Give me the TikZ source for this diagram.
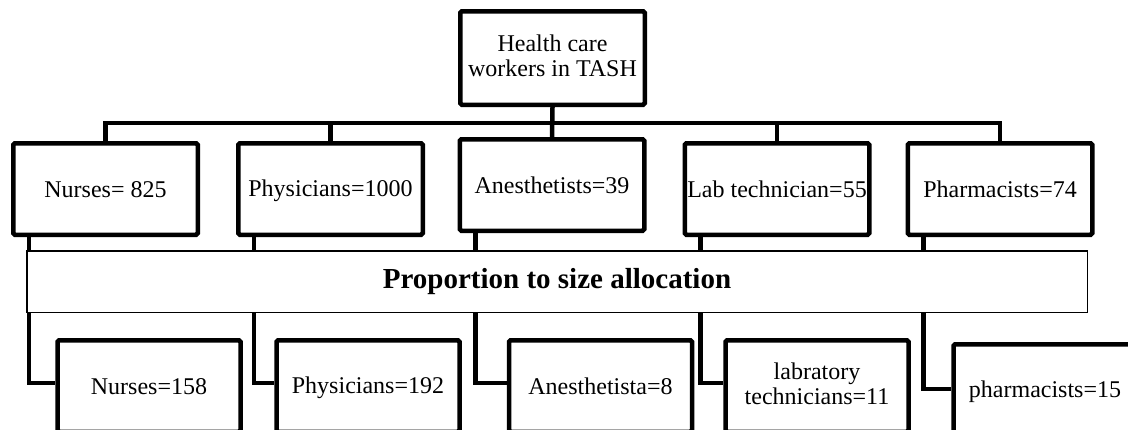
\documentclass[tikz,border=0pt]{standalone}
\usepackage{fontspec}
\setmainfont{Liberation Serif}
\newcommand{\mystrut}{\vrule height 10.5pt depth 2pt width 0pt\relax}
\begin{document}
\begin{tikzpicture}[x=0.5pt,y=-0.5pt,
  txt/.style={font=\fontsize{12pt}{12.5pt}\selectfont, align=center, inner sep=0pt,
    execute at begin node=\mystrut, execute at end node=\mystrut},
  bigbox/.style={txt, draw=black, line width=2.25pt, rounded corners=0.8pt,
    minimum width=92.25pt, minimum height=45.75pt},
  lowbox/.style={txt, draw=black, line width=2.25pt, rounded corners=0.8pt,
    minimum width=91.5pt, minimum height=45.75pt},
  psabox/.style={draw=black, line width=0.75pt, inner sep=0pt,
    minimum width=530.25pt, minimum height=30.75pt,
    font=\bfseries\fontsize{14.5pt}{17pt}\selectfont},
  conn/.style={draw=black, line width=2.25pt}
]
\useasboundingbox (0,0) rectangle (1128,429);
\fill[white] (0,0) rectangle (1128,429);

% top node
\node[bigbox, minimum height=46.75pt] (top) at (552.5,58) {Health care\\workers in TASH};

% level 1
\node[bigbox] (n1) at (105.5,189) {Nurses= 825};
\node[bigbox] (p1) at (330.5,189) {Physicians=1000};
\node[bigbox] (a1) at (552,185) {Anesthetists=39};
\node[bigbox] (l1) at (777,189) {Lab technician=55};
\node[bigbox] (h1) at (1000,189) {Pharmacists=74};

% allocation bar
\node[psabox] (psa) at (557,281.5) {Proportion to size allocation};

% level 2
\node[lowbox] (n2) at (149,386) {Nurses=158};
\node[lowbox] (p2) at (368,386) {Physicians=192};
\node[lowbox] (a2) at (600.5,386) {Anesthetista=8};
\node[lowbox] (l2) at (817,386) {labratory\\technicians=11};
\node[lowbox] (h2) at (1045,390) {pharmacists=15};

% bus
\coordinate (bus) at (0,123);
\draw[conn] (top.south) -- (a1.north);
\draw[conn] (n1.north) -- (n1.north |- bus) -| (h1.north);
\draw[conn] (p1.north) -- (p1.north |- bus);
\draw[conn] (l1.north) -- (l1.north |- bus);

% down to the bar and on to level 2
\foreach \u/\d/\s in {n1/n2/1.5pt, p1/p2/1.5pt, a1/a2/1.5pt, l1/l2/1.5pt, h1/h2/0.5pt}{
  \draw[conn] ([xshift=9pt]\u.south west) -- ([xshift=9pt]\u.south west |- psa.north);
  \draw[conn] ([xshift=9pt]\u.south west |- psa.south) |- ([yshift=\s]\d.west);
}
\end{tikzpicture}
\end{document}
